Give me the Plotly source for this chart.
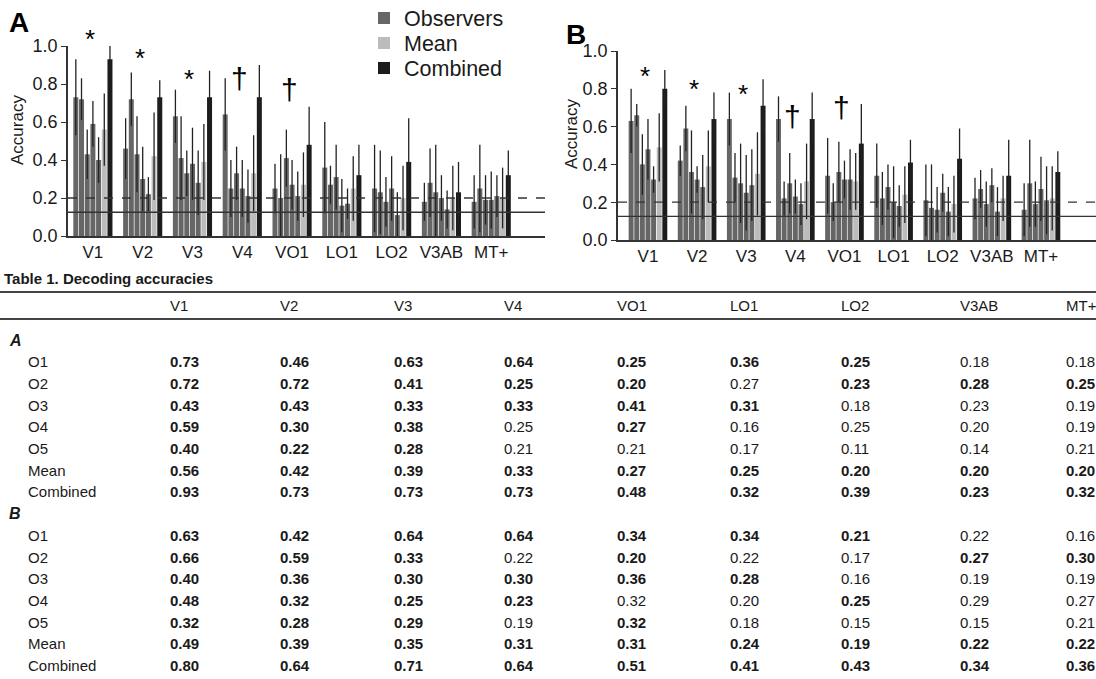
import plotly.graph_objects as go

# ---------------- data ----------------
regions = ["V1", "V2", "V3", "V4", "VO1", "LO1", "LO2", "V3AB", "MT+"]
row_labels = ["O1", "O2", "O3", "O4", "O5", "Mean", "Combined"]
chance_level = 0.125
threshold = 0.2

# Panel A decoding accuracies (per region)
a_o1 = [0.73, 0.46, 0.63, 0.64, 0.25, 0.36, 0.25, 0.18, 0.18]
a_o2 = [0.72, 0.72, 0.41, 0.25, 0.20, 0.27, 0.23, 0.28, 0.25]
a_o3 = [0.43, 0.43, 0.33, 0.33, 0.41, 0.31, 0.18, 0.23, 0.19]
a_o4 = [0.59, 0.30, 0.38, 0.25, 0.27, 0.16, 0.25, 0.20, 0.19]
a_o5 = [0.40, 0.22, 0.28, 0.21, 0.21, 0.17, 0.11, 0.14, 0.21]
a_mean = [0.56, 0.42, 0.39, 0.33, 0.27, 0.25, 0.20, 0.20, 0.20]
a_comb = [0.93, 0.73, 0.73, 0.73, 0.48, 0.32, 0.39, 0.23, 0.32]

# Panel B decoding accuracies
b_o1 = [0.63, 0.42, 0.64, 0.64, 0.34, 0.34, 0.21, 0.22, 0.16]
b_o2 = [0.66, 0.59, 0.33, 0.22, 0.20, 0.22, 0.17, 0.27, 0.30]
b_o3 = [0.40, 0.36, 0.30, 0.30, 0.36, 0.28, 0.16, 0.19, 0.19]
b_o4 = [0.48, 0.32, 0.25, 0.23, 0.32, 0.20, 0.25, 0.29, 0.27]
b_o5 = [0.32, 0.28, 0.29, 0.19, 0.32, 0.18, 0.15, 0.15, 0.21]
b_mean = [0.49, 0.39, 0.35, 0.31, 0.31, 0.24, 0.19, 0.22, 0.22]
b_comb = [0.80, 0.64, 0.71, 0.64, 0.51, 0.41, 0.43, 0.34, 0.36]

# error bar half-widths
a_o1_err = [0.20, 0.16, 0.14, 0.19, 0.13, 0.24, 0.23, 0.10, 0.14]
a_o2_err = [0.11, 0.14, 0.22, 0.15, 0.23, 0.10, 0.22, 0.18, 0.23]
a_o3_err = [0.13, 0.20, 0.12, 0.14, 0.15, 0.17, 0.13, 0.25, 0.13]
a_o4_err = [0.12, 0.17, 0.19, 0.15, 0.13, 0.14, 0.17, 0.12, 0.15]
a_o5_err = [0.12, 0.09, 0.17, 0.14, 0.13, 0.08, 0.12, 0.10, 0.11]
a_mean_err = [0.19, 0.23, 0.20, 0.20, 0.17, 0.17, 0.17, 0.17, 0.16]
a_comb_err = [0.07, 0.09, 0.14, 0.17, 0.20, 0.16, 0.23, 0.16, 0.13]

b_o1_err = [0.17, 0.08, 0.14, 0.12, 0.20, 0.17, 0.19, 0.11, 0.14]
b_o2_err = [0.06, 0.12, 0.13, 0.09, 0.10, 0.14, 0.23, 0.10, 0.23]
b_o3_err = [0.16, 0.22, 0.21, 0.16, 0.16, 0.12, 0.12, 0.12, 0.12]
b_o4_err = [0.16, 0.07, 0.20, 0.09, 0.10, 0.19, 0.10, 0.09, 0.17]
b_o5_err = [0.07, 0.17, 0.19, 0.11, 0.16, 0.11, 0.13, 0.13, 0.18]
b_mean_err = [0.18, 0.19, 0.22, 0.20, 0.15, 0.15, 0.15, 0.12, 0.17]
b_comb_err = [0.10, 0.14, 0.14, 0.14, 0.21, 0.12, 0.16, 0.19, 0.11]

# significance flags (bold entries in Table 1)
a_sig = [
    [1, 1, 1, 1, 1, 1, 1, 0, 0],
    [1, 1, 1, 1, 1, 0, 1, 1, 1],
    [1, 1, 1, 1, 1, 1, 0, 0, 0],
    [1, 1, 1, 0, 1, 0, 0, 0, 0],
    [1, 1, 1, 0, 0, 0, 0, 0, 0],
    [1, 1, 1, 1, 1, 1, 1, 1, 1],
    [1, 1, 1, 1, 1, 1, 1, 1, 1],
]
b_sig = [
    [1, 1, 1, 1, 1, 1, 1, 0, 0],
    [1, 1, 1, 0, 1, 0, 0, 1, 1],
    [1, 1, 1, 1, 1, 1, 0, 0, 0],
    [1, 1, 1, 1, 0, 0, 1, 0, 0],
    [1, 1, 1, 0, 1, 0, 0, 0, 0],
    [1, 1, 1, 1, 1, 1, 1, 1, 1],
    [1, 1, 1, 1, 1, 1, 1, 1, 1],
]

# region-level significance markers: (region index, symbol, height) per panel
a_marks = [(0, "*", 1.035), (1, "*", 0.935), (2, "*", 0.825), (3, "†", 0.83), (4, "†", 0.77)]
b_marks = [(0, "*", 0.87), (1, "*", 0.80), (2, "*", 0.775), (3, "†", 0.655), (4, "†", 0.70)]

# ---------------- styling ----------------
W, H = 1096, 679
FONT = "Liberation Sans, Arial, Helvetica, sans-serif"
TFONT = "Liberation Sans, Arial, sans-serif"
TSIZE = 15
C_OBS, C_MEAN, C_COMB, C_ERR, C_TXT = "#666666", "#bcbcbc", "#1c1c1c", "#222222", "#1a1a1a"


def px(x):
    return x / W


def py(y):
    return 1 - y / H


fig = go.Figure()
xs = list(range(len(regions)))

panels = [
    ("x", "y", [a_o1, a_o2, a_o3, a_o4, a_o5, a_mean, a_comb],
     [a_o1_err, a_o2_err, a_o3_err, a_o4_err, a_o5_err, a_mean_err, a_comb_err], True),
    ("x2", "y2", [b_o1, b_o2, b_o3, b_o4, b_o5, b_mean, b_comb],
     [b_o1_err, b_o2_err, b_o3_err, b_o4_err, b_o5_err, b_mean_err, b_comb_err], False),
]
for xa, ya, series, errs, leg in panels:
    for i, (vals, err) in enumerate(zip(series, errs)):
        if i < 5:
            color, name, show, lg = C_OBS, "Observers", leg and i == 0, "legend"
        elif i == 5:
            color, name, show, lg = C_MEAN, "Mean", leg, "legend2"
        else:
            color, name, show, lg = C_COMB, "Combined", leg, "legend3"
        fig.add_trace(go.Bar(
            x=xs, y=vals, xaxis=xa, yaxis=ya, name=name, showlegend=show, legend=lg,
            legendgroup=name, marker=dict(color=color, line=dict(width=0)),
            error_y=dict(type="data", array=err, visible=True, color=C_ERR,
                         thickness=1.3, width=0),
        ))

axis_common = dict(showgrid=False, zeroline=False, showline=True, linecolor="#333",
                   linewidth=1.5, automargin=False)
xtf = dict(family=FONT, size=17, color=C_TXT)
ytf = dict(family=FONT, size=18, color=C_TXT)
yticks = [0, 0.2, 0.4, 0.6, 0.8, 1.0]
leg_common = dict(x=px(364), xanchor="left", yanchor="middle",
                  font=dict(family=FONT, size=21.5, color=C_TXT), bgcolor="rgba(0,0,0,0)",
                  itemwidth=30)
fig.update_layout(
    width=W, height=H, margin=dict(l=0, r=0, t=0, b=0, autoexpand=False),
    paper_bgcolor="white", plot_bgcolor="white",
    barmode="group", bargap=0.2, bargroupgap=0.12,
    xaxis=dict(domain=[px(68), px(545)], range=[-0.5, 9.08], tickvals=xs, ticktext=regions,
               ticks="", anchor="y", tickfont=xtf, **axis_common),
    yaxis=dict(domain=[py(236), py(46)], range=[0, 1], tickvals=yticks,
               tickformat=".1f", ticks="outside", ticklen=5, tickcolor="#333",
               anchor="x", tickfont=ytf, **axis_common),
    xaxis2=dict(domain=[px(618), 1.0], range=[-0.61, 9.12], tickvals=xs, ticktext=regions,
                ticks="", anchor="y2", tickfont=xtf, **axis_common),
    yaxis2=dict(domain=[py(240), py(51)], range=[0, 1], tickvals=yticks,
                tickformat=".1f", ticks="outside", ticklen=5, tickcolor="#333",
                anchor="x2", tickfont=ytf, **axis_common),
    legend=dict(y=py(18), **leg_common),
    legend2=dict(y=py(43), **leg_common),
    legend3=dict(y=py(68), **leg_common),
    showlegend=True,
)

shapes = []
for xr, yr in [("x", "y"), ("x2", "y2")]:
    shapes.append(dict(type="line", xref=xr + " domain", yref=yr, x0=0, x1=1, y0=threshold, y1=threshold,
                       line=dict(color="#333", width=1.3, dash="dash")))
    shapes.append(dict(type="line", xref=xr + " domain", yref=yr, x0=0, x1=1, y0=chance_level, y1=chance_level,
                       line=dict(color="#333", width=1.3)))
# table rules
for yy in (292, 319):
    shapes.append(dict(type="line", xref="paper", yref="paper", x0=0, x1=1, y0=py(yy), y1=py(yy),
                       line=dict(color="#444", width=1.8)))
fig.update_layout(shapes=shapes)

ann = []


def note(text, x, y, size, xanchor="center", family=FONT, **kw):
    ann.append(dict(text=text, x=px(x), y=py(y), xref="paper", yref="paper", showarrow=False,
                    xanchor=xanchor, yanchor="middle",
                    font=dict(family=family, size=size, color=kw.pop("color", C_TXT)), **kw))


# panel letters
note("<b>A</b>", 19, 23, 28, color="black")
note("<b>B</b>", 576, 34, 28, color="black")
# y titles
note("Accuracy", 17, 130, 17, textangle=-90)
note("Accuracy", 572, 134, 17, textangle=-90)
# significance symbols (axis-domain coordinates; range is 0..1)
for xr, yr, marks in [("x", "y", a_marks), ("x2", "y2", b_marks)]:
    for idx, sym, h in marks:
        ann.append(dict(text=sym, x=idx - 0.06, y=h, xref=xr, yref=yr + " domain", showarrow=False,
                        xanchor="center", yanchor="middle",
                        font=dict(family=FONT, size=30 if sym == "†" else 26, color="black")))

# table
col_x = [168, 278, 392, 502, 615, 728, 839, 958, 1064]
note("<b>Table 1. Decoding accuracies</b>", 2, 278, TSIZE, xanchor="left", family=TFONT)
for j, r in enumerate(regions):
    note(r, col_x[j], 305, TSIZE, xanchor="left", family=TFONT)

row_h = 21.7
y0 = 340
sections = [
    ("A", [a_o1, a_o2, a_o3, a_o4, a_o5, a_mean, a_comb], a_sig),
    ("B", [b_o1, b_o2, b_o3, b_o4, b_o5, b_mean, b_comb], b_sig),
]
k = 0
for lab, rows, sig in sections:
    note(f"<b><i>{lab}</i></b>", 7, y0 + k * row_h, TSIZE + 1, xanchor="left", family=TFONT)
    k += 1
    for rl, vals, sg in zip(row_labels, rows, sig):
        yy = y0 + k * row_h
        note(rl, 26, yy, TSIZE, xanchor="left", family=TFONT)
        for j, (v, s) in enumerate(zip(vals, sg)):
            t = f"{v:.2f}"
            if s:
                t = f"<b>{t}</b>"
            note(t, col_x[j], yy, TSIZE, xanchor="left", family=TFONT)
        k += 1

fig.update_layout(annotations=ann)
fig.write_html("out.html", config={"displayModeBar": False},
               post_script="document.body.style.margin='0';")
